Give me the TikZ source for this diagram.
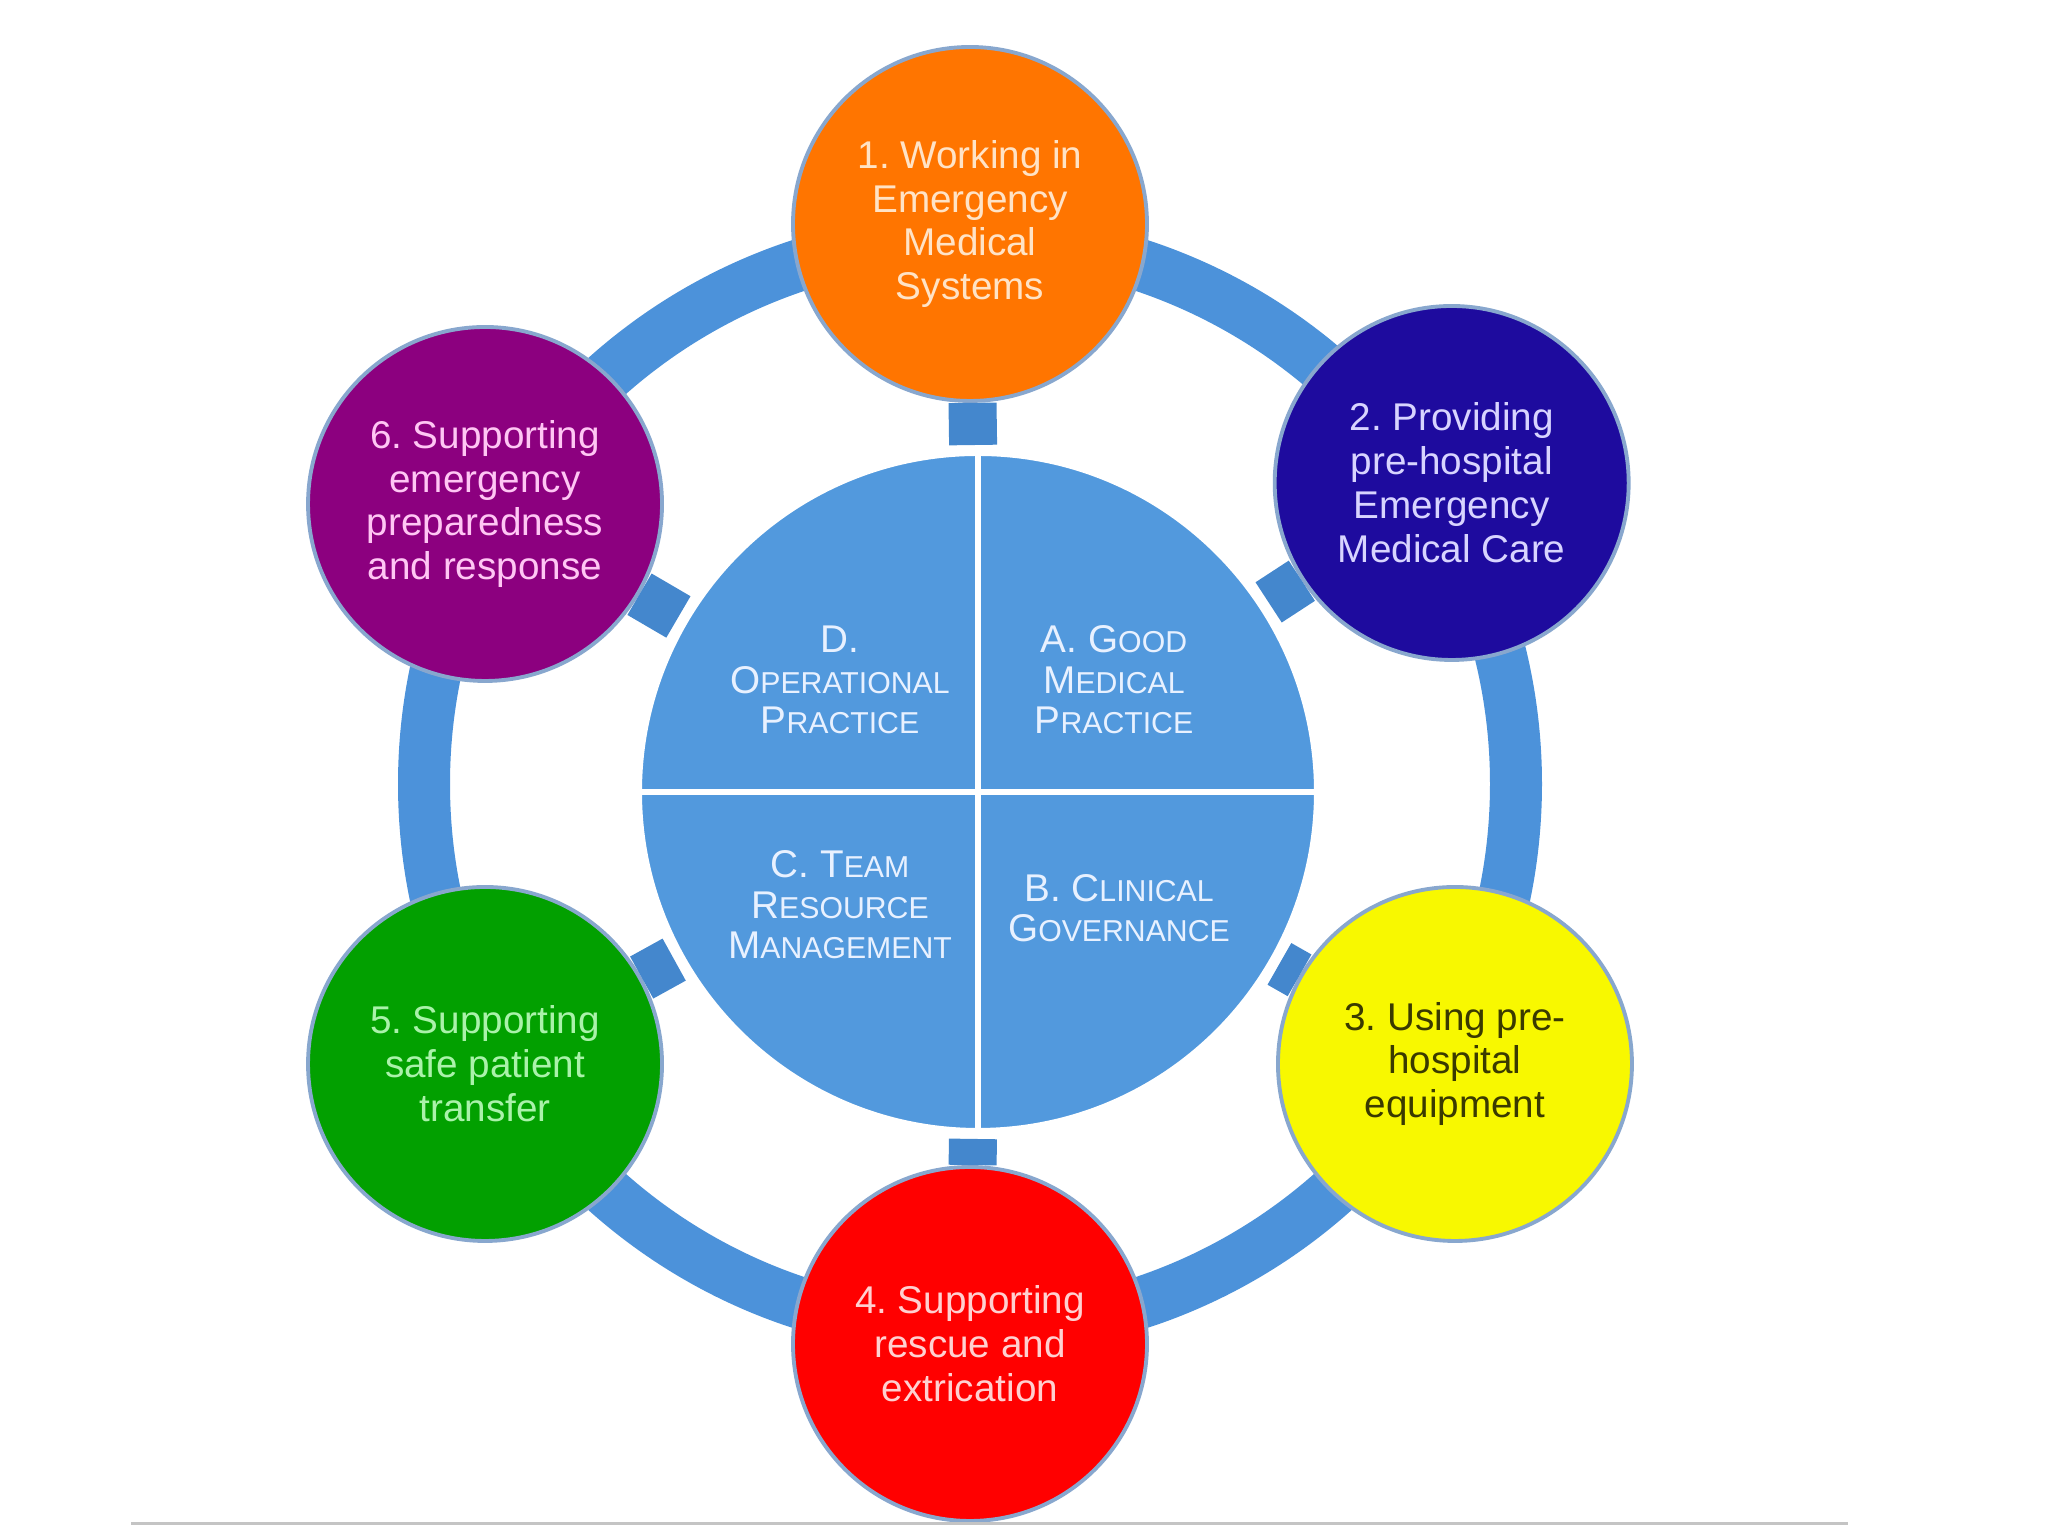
\documentclass[tikz,border=0pt]{standalone}
\usepackage{fontspec}
\setmainfont{Liberation Sans}
\usetikzlibrary{calc}
\definecolor{ringblue}{HTML}{4C92DA}
\definecolor{stubblue}{HTML}{4487CD}
\definecolor{coreblue}{HTML}{5299DD}
\definecolor{coretext}{HTML}{E8F1FF}
\definecolor{rim}{HTML}{88A7CE}
\definecolor{rulegray}{HTML}{C4C4C4}
\definecolor{emsfill}{HTML}{FF7500}
\definecolor{emstext}{HTML}{FFE3C6}
\definecolor{carefill}{HTML}{1E0B9E}
\definecolor{caretext}{HTML}{D8D4FF}
\definecolor{equipfill}{HTML}{F8F800}
\definecolor{equiptext}{HTML}{3A3A00}
\definecolor{rescuefill}{HTML}{FF0000}
\definecolor{rescuetext}{HTML}{FFD0D0}
\definecolor{transferfill}{HTML}{02A000}
\definecolor{transfertext}{HTML}{AAF2AA}
\definecolor{prepfill}{HTML}{8C007F}
\definecolor{preptext}{HTML}{FFC6F4}
\newcommand{\smc}[1]{{\fontsize{8.6}{11.5}\selectfont #1}}
\frenchspacing
\tikzset{
  comp/.style={circle, draw=rim, line width=1.1pt, minimum size=3.54cm, inner sep=0pt,
    align=center, font=\fontsize{11}{12.5}\selectfont},
  quad/.style={align=center, text=coretext, font=\fontsize{11}{11.5}\selectfont},
  link/.style={stubblue, line width=0.48cm},
}

\begin{document}
\begin{tikzpicture}
\useasboundingbox (0,0) rectangle (20.48,15.36);
\coordinate (hub) at (9.70,7.52);
% outer ring
\draw[ringblue, line width=0.52cm] (hub) circle (5.46);
% central disc, four quarters
\node[circle, fill=coreblue, draw=white, line width=0.08cm, minimum size=6.80cm,
  inner sep=0pt, outer sep=0.07cm] (core) at (9.78,7.44) {};
\draw[white, line width=0.06cm] (core.north) -- (core.south);
\draw[white, line width=0.06cm] (core.west) -- (core.east);
\node[quad] (qd) at (8.40,8.56) {D.\\O\smc{PERATIONAL}\\P\smc{RACTICE}};
\node[quad] (qa) at (11.14,8.56) {A. G\smc{OOD}\\M\smc{EDICAL}\\P\smc{RACTICE}};
\node[quad] (qc) at (8.40,6.31) {C. T\smc{EAM}\\R\smc{ESOURCE}\\M\smc{ANAGEMENT}};
\node[quad] (qb) at (11.19,6.28) {B. C\smc{LINICAL}\\G\smc{OVERNANCE}};
% six competences
\node[comp, fill=emsfill, text=emstext] (ems) at ($(hub)+(90:5.6)$)
  {1. Working in\\Emergency\\Medical\\Systems};
\node[comp, fill=carefill, text=caretext] (care) at ($(hub)+(32:5.68)$)
  {2. Providing\\pre-hospital\\Emergency\\Medical Care};
\node[comp, fill=equipfill, text=equiptext] (equip) at ($(hub)+(-30:5.6)$)
  {3. Using pre-\\hospital\\equipment};
\node[comp, fill=rescuefill, text=rescuetext] (rescue) at ($(hub)+(-90:5.6)$)
  {4. Supporting\\rescue and\\extrication};
\node[comp, fill=transferfill, text=transfertext] (transfer) at ($(hub)+(-150:5.6)$)
  {5. Supporting\\safe patient\\transfer};
\node[comp, fill=prepfill, text=preptext] (prep) at ($(hub)+(150:5.6)$)
  {6. Supporting\\emergency\\preparedness\\and response};
\foreach \n in {ems,care,equip,rescue,transfer,prep} \draw[link] (core) -- (\n);
\draw[rulegray, line width=0.03cm] (1.31,0.12) -- (18.48,0.12);
\end{tikzpicture}
\end{document}
